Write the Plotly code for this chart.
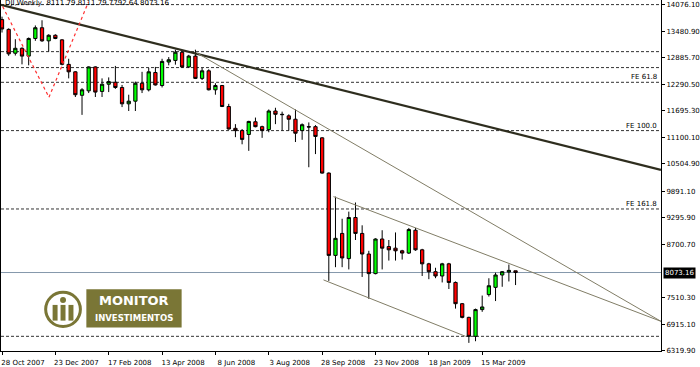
import pandas as pd
import plotly.graph_objects as go

# ---------------- data ----------------
start_week = "2007-10-28"
n_weeks = 78
opens = [13740, 13521, 12987, 13097, 12922, 13317, 13558, 13264, 13389, 13286,
         12737, 12570, 12044, 12144, 12680, 12131, 12292, 12336, 12219, 11853,
         11912, 12314, 12167, 12555, 12263, 12790, 12825, 13009, 12680, 12922,
         12423, 12592, 12167, 12263, 11793, 11304, 11253, 11166, 11451, 11341,
         11275, 11692, 11618, 11583, 11508, 11253, 11341, 11341, 11091, 10301,
         8457, 8949, 8385, 9306, 8949, 8488, 8049, 8824, 8655, 8619,
         8560, 8509, 9021, 8582, 8268, 8092, 7996, 8268, 7851, 7375,
         7068, 6644, 7243, 7579, 7741, 8018, 8084, 8111.79]
highs = [13806, 13543, 13301, 13119, 13339, 13609, 13725, 13411, 13411, 13301,
         12862, 12584, 12204, 12693, 12693, 12423, 12445, 12702, 12276, 12057,
         12351, 12570, 12658, 12680, 12862, 12900, 13066, 13038, 12950, 13066,
         12658, 12627, 12314, 12276, 11853, 11398, 11289, 11473, 11545, 11363,
         11727, 11765, 11677, 11618, 11727, 11414, 11436, 11376, 11106, 10316,
         9774, 9278, 9438, 9642, 9131, 8560, 8839, 9021, 8802, 8971,
         8582, 9072, 9072, 8604, 8290, 8180, 8290, 8290, 7873, 7390,
         7083, 7265, 7557, 7945, 8070, 8106, 8253, 8111.79]
lows = [13450, 12928, 12935, 12737, 12715, 13264, 13242, 13023, 13301, 12715,
        12423, 12006, 11605, 12094, 12006, 12006, 12116, 12188, 11780, 11692,
        11692, 12094, 12131, 12263, 12219, 12715, 12730, 12658, 12658, 12408,
        12386, 12153, 12057, 11780, 11275, 11106, 10946, 10799, 11326, 11091,
        11216, 11398, 11253, 11253, 10997, 11047, 10432, 10727, 10288, 7886,
        8193, 8193, 8143, 8802, 7974, 7484, 8033, 8143, 8341, 8341,
        8363, 8488, 8560, 7996, 7924, 7946, 7851, 7704, 7265, 7046,
        6497, 6534, 7193, 7535, 7434, 7754, 7873, 7792.64]
closes = [13530, 12972, 13097, 12922, 13317, 13558, 13264, 13389, 13317, 12737,
          12570, 12057, 12167, 12680, 12116, 12292, 12351, 12219, 11853, 11912,
          12314, 12167, 12570, 12276, 12803, 12840, 13009, 12680, 12922, 12423,
          12592, 12167, 12263, 11793, 11289, 11253, 11056, 11458, 11341, 11253,
          11692, 11618, 11611, 11508, 11194, 11385, 11334, 11122, 10301, 8457,
          8839, 8400, 9306, 8949, 8488, 8049, 8824, 8619, 8582, 8560,
          8509, 9036, 8582, 8268, 8092, 7996, 8268, 7851, 7375, 7068,
          6644, 7243, 7302, 7777, 8018, 8092, 8121, 8073.16]

y_ticks = [14076.10, 13480.90, 12885.70, 12290.50, 11695.30, 11100.10,
           10504.90, 9891.10, 9295.90, 8700.70, 7510.30, 6915.10, 6319.90]
x_tick_weeks = [0, 8, 16, 24, 32, 40, 48, 56, 64, 72]
x_tick_labels = ["28 Oct 2007", "23 Dec 2007", "17 Feb 2008", "13 Apr 2008",
                 "8 Jun 2008", "3 Aug 2008", "28 Sep 2008", "23 Nov 2008",
                 "18 Jan 2009", "15 Mar 2009"]

# horizontal levels (dashed) and Fibonacci expansion labels
levels = [14076, 13022, 12665, 12335, 11253, 9497, 6644]
fe_levels = [12335, 11253, 9497]
fe_labels = ["FE 61.8", "FE 100.0", "FE 161.8"]
last_price = 8073.16

# trend lines: (week index, price) pairs
thick_line_w = [-0.15, 98.8]
thick_line_p = [14069, 10371]
thin_line1_w = [29.2, 98.8]
thin_line1_p = [12994, 6980]
chan_upper_w = [49.7, 98.8]
chan_upper_p = [9774, 6980]
chan_lower_w = [48.2, 69.5]
chan_lower_p = [7908, 6644]
zigzag_w = [0.1, 7.04, 12.95]
zigzag_p = [14032, 12000, 14130]

title_text = "DJI,Weekly  8111.79 8111.79 7792.64 8073.16"

# ---------------- helpers ----------------
base = pd.Timestamp(start_week)
def wk(i):
    return base + pd.Timedelta(days=7 * i)

dates = [wk(i) for i in range(n_weeks)]

W, H = 700, 367
ML, MR, MT, MB = 0, 35, 0, 9
PW, PH = W - ML - MR, H - MT - MB
def px(x):
    return x / PW
def py(y):
    return 1 - y / PH

FONT = "DejaVu Sans"
OLIVE = "#7a7636"

fig = go.Figure()
fig.add_trace(go.Candlestick(
    x=dates, open=opens, high=highs, low=lows, close=closes,
    increasing=dict(fillcolor="#00ff00", line=dict(color="black", width=1)),
    decreasing=dict(fillcolor="#ff0000", line=dict(color="black", width=1)),
    whiskerwidth=0, showlegend=False, hoverinfo="skip"))

shapes = []
for lv in levels:
    shapes.append(dict(type="line", xref="paper", x0=0, x1=1, yref="y", y0=lv, y1=lv,
                       line=dict(color="#333333", width=1, dash="3px,2px"), layer="below"))
shapes.append(dict(type="line", xref="paper", x0=0, x1=1, yref="y", y0=last_price, y1=last_price,
                   line=dict(color="#8598ab", width=1), layer="below"))

def seg(ws, ps, color, width, dash="solid"):
    for k in range(len(ws) - 1):
        shapes.append(dict(type="line", xref="x", yref="y",
                           x0=wk(ws[k]), y0=ps[k], x1=wk(ws[k + 1]), y1=ps[k + 1],
                           line=dict(color=color, width=width, dash=dash)))

seg(thick_line_w, thick_line_p, "#2e2d1e", 2.2)
seg(thin_line1_w, thin_line1_p, "#817d66", 1)
seg(chan_upper_w, chan_upper_p, "#817d66", 1)
seg(chan_lower_w, chan_lower_p, "#817d66", 1)
seg(zigzag_w, zigzag_p, "#ff3030", 1.2, "dot")

# logo
shapes.append(dict(type="rect", xref="paper", yref="paper",
                   x0=px(86), x1=px(182), y0=py(334), y1=py(295),
                   fillcolor=OLIVE, line=dict(width=0), layer="above"))
shapes.append(dict(type="circle", xref="paper", yref="paper",
                   x0=px(45), x1=px(80), y0=py(333), y1=py(298),
                   fillcolor="white", line=dict(color=OLIVE, width=3), layer="above"))
shapes.append(dict(type="circle", xref="paper", yref="paper",
                   x0=px(59.5), x1=px(65.5), y0=py(309), y1=py(303),
                   fillcolor=OLIVE, line=dict(width=0), layer="above"))
for xa in (52, 60, 68):
    shapes.append(dict(type="rect", xref="paper", yref="paper",
                       x0=px(xa), x1=px(xa + 5), y0=py(327), y1=py(311),
                       fillcolor=OLIVE, line=dict(width=0), layer="above"))

annotations = []
for lv, lb in zip(fe_levels, fe_labels):
    annotations.append(dict(text=lb, xref="paper", x=1, xanchor="right", xshift=-2,
                            yref="y", y=lv, yanchor="bottom", yshift=-1,
                            showarrow=False, font=dict(family=FONT, size=7, color="black")))
annotations.append(dict(text=f"{last_price:.2f}", xref="paper", x=1, xanchor="left", xshift=2,
                        yref="y", y=last_price, yanchor="middle", showarrow=False,
                        bgcolor="black", borderpad=1,
                        font=dict(family=FONT, size=7, color="white")))
annotations.append(dict(text=title_text, xref="paper", x=0, xanchor="left", xshift=2,
                        yref="paper", y=1, yanchor="top", yshift=3,
                        showarrow=False, font=dict(family=FONT, size=7, color="black")))
annotations.append(dict(text="<b>MONITOR</b>", xref="paper", yref="paper",
                        x=px(134), y=py(307), xanchor="center", yanchor="middle",
                        showarrow=False, font=dict(family=FONT, size=13, color="white")))
annotations.append(dict(text="<b>INVESTIMENTOS</b>", xref="paper", yref="paper",
                        x=px(134), y=py(324), xanchor="center", yanchor="middle",
                        showarrow=False, font=dict(family=FONT, size=8.5, color="white")))

x_range = [wk(-0.15), wk(-0.15 + PW / 6.72)]

fig.update_layout(
    width=W, height=H, margin=dict(l=ML, r=MR, t=MT, b=MB),
    paper_bgcolor="white", plot_bgcolor="white",
    shapes=shapes, annotations=annotations, showlegend=False,
    font=dict(family=FONT, size=7, color="black"),
    xaxis=dict(range=x_range, rangeslider=dict(visible=False), showgrid=False, zeroline=False,
               tickvals=[wk(i) for i in x_tick_weeks], ticktext=x_tick_labels,
               ticks="outside", ticklen=3, tickcolor="black", ticklabelshift=21,
               ticklabelstandoff=2,
               showline=True, linecolor="black", linewidth=1,
               tickfont=dict(family=FONT, size=7, color="black")),
    yaxis=dict(range=[6315, 14179], side="right", showgrid=False, zeroline=False,
               tickvals=y_ticks, ticktext=[f"{v:.2f}" for v in y_ticks],
               ticks="outside", ticklen=3, tickcolor="black",
               showline=True, linecolor="black", linewidth=1, mirror=True,
               tickfont=dict(family=FONT, size=7, color="black")),
)

fig.write_html("out.html")
